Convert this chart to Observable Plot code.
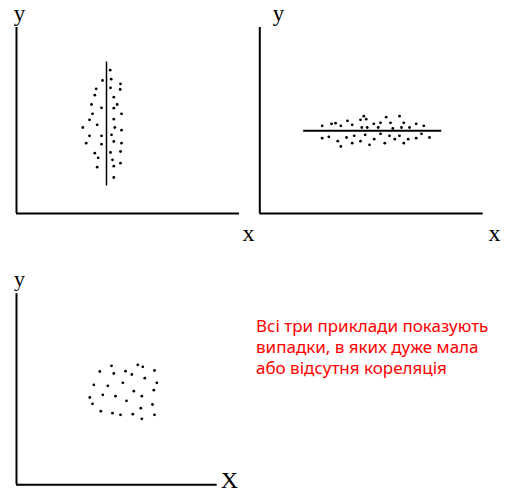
<!DOCTYPE html>
<html>
<head>
<meta charset="utf-8">
<script src="https://cdn.jsdelivr.net/npm/d3@7"></script>
<script src="https://cdn.jsdelivr.net/npm/@observablehq/plot@0.6"></script>
<style>
  html, body { margin: 0; padding: 0; background: #fff; }
  #wrap { position: relative; width: 514px; height: 500px; overflow: hidden; }
  #wrap svg { position: absolute; overflow: visible; }
  #note { position: absolute; left: 256px; top: 314.5px; font-family: "Noto Sans", sans-serif;
          font-size: 17px; line-height: 21px; color: #ff0000; white-space: nowrap; }
</style>
</head>
<body>
<div id="wrap"></div>
<script>
// Panel 1: vertical regression line, points scattered along y
const p1x = [93.7,86,94.7,104,103.7,79.7,94,78.3,97.3,75,100.7,85,97.3,76,105,73,97.3,80.7,66.3,98.3,105,73,85,95,69.7,85,97.3,105,78.3,94,104,81.7,96,80.7,97.3,104,97.3];
const p1y = [143.3,133,134.3,129.7,124,124.7,125.7,118.3,116.3,109,109,105.7,105.3,99.7,99.7,93.7,94.3,88.7,86,86,83.3,77.7,77.7,78.7,70.3,69.3,72,70.3,60.3,61,62,55.7,53.7,46.3,47.3,50.3,36];
const p1line = {x1: 90, y1: 28, x2: 90, y2: 152};

// Panel 2: horizontal regression line
const p2x = [62.4,71.7,75.7,81,87.7,92.4,100.7,104,106.4,102,107.4,114,118.4,120.7,126.4,130.7,133,139.7,141.7,144,149.7,156.4,164,
             62.4,69,78,81,86.7,92.4,94.4,100.7,105.4,109.7,114.4,120.7,125,129.7,135,139.7,144,148.4,156.4,161.7,169.7];
const p2y = [87.7,89.7,90.3,87.7,92.7,88.7,93.7,97.3,94.3,86,86,89.7,86,90.7,96.3,90.7,85,97.3,86,90.7,86,89.7,87.7,
             75.3,76.7,72.3,67,76,70.3,77.7,72.3,78.7,68.7,74.3,79.7,70.3,77.7,74.3,77.7,70.3,74.3,75.3,79.7,76];
const p2line = {x1: 43.4, y1: 82.7, x2: 181.4, y2: 82.7};

// Panel 3: cloud without line
const p3x = [95,121.3,126.3,83.3,109,138,97.3,115.3,128.3,106.3,140.3,77.3,91.3,137.3,117.3,73.3,86.3,99,125.3,110,76,136,124.3,84.3,96,104,116.3,138,125.3];
const p3y = [119,120,118,113.3,113.6,114.3,111.3,110.3,106.6,102,102,100,99,94.6,93.6,87.3,90,88.6,88.6,84,81,80.3,76.6,73.6,71.6,70,70.6,70,66];

const axisNames = ["x", "y", "X"];
const noteLines = ["Всі три приклади показують", "випадки, в яких дуже мала", "або відсутня кореляція"];

const zip = (xs, ys) => xs.map((x, i) => ({x, y: ys[i]}));
const serif = "'Liberation Serif', 'Times New Roman', serif";

function panel({pts, line, xmax, ymax, left, top, mL, mR, mT, mB, labels}) {
  const marks = [
    Plot.ruleX([0], {stroke: "#000", strokeWidth: 2}),
    Plot.ruleY([0], {stroke: "#000", strokeWidth: 2}),
    Plot.dot(pts, {x: "x", y: "y", r: 1.4, fill: "#000", stroke: "none"}),
    Plot.text(labels, {x: "x", y: "y", text: "t", fontSize: "s", fontFamily: serif,
                       textAnchor: "middle", lineAnchor: "bottom", fill: "#000"})
  ];
  if (line) marks.push(Plot.link([line], {x1: "x1", y1: "y1", x2: "x2", y2: "y2", stroke: "#000", strokeWidth: line.w}));
  const svg = Plot.plot({
    width: 257, height: 250,
    marginLeft: mL, marginRight: mR, marginTop: mT, marginBottom: mB,
    x: {domain: [0, xmax], axis: null},
    y: {domain: [0, ymax], axis: null},
    style: {background: "transparent", overflow: "visible"},
    marks
  });
  svg.style.left = left + "px";
  svg.style.top = top + "px";
  return svg;
}

const wrap = document.getElementById("wrap");
wrap.appendChild(panel({
  pts: zip(p1x, p1y), line: {...p1line, w: 1.5}, xmax: 223, ymax: 186,
  left: 0, top: 0, mL: 16, mR: 18, mT: 27, mB: 37,
  labels: [{x: 3, y: 192.5, t: axisNames[1], s: 23}, {x: 232, y: -27, t: axisNames[0], s: 24}]
}));
wrap.appendChild(panel({
  pts: zip(p2x, p2y), line: {...p2line, w: 2}, xmax: 223.4, ymax: 186,
  left: 257, top: 0, mL: 2.3, mR: 31.3, mT: 27, mB: 37,
  labels: [{x: 18.7, y: 192.5, t: axisNames[1], s: 23}, {x: 234.7, y: -27, t: axisNames[0], s: 24}]
}));
wrap.appendChild(panel({
  pts: zip(p3x, p3y), line: null, xmax: 200.7, ymax: 191,
  left: 0, top: 250, mL: 16, mR: 40.3, mT: 43.3, mB: 15.7,
  labels: [{x: 3, y: 199.3, t: axisNames[1], s: 22}, {x: 213, y: -3.4, t: axisNames[2], s: 24}]
}));

const note = document.createElement("div");
note.id = "note";
note.innerHTML = noteLines.join("<br>");
wrap.appendChild(note);
</script>
</body>
</html>
